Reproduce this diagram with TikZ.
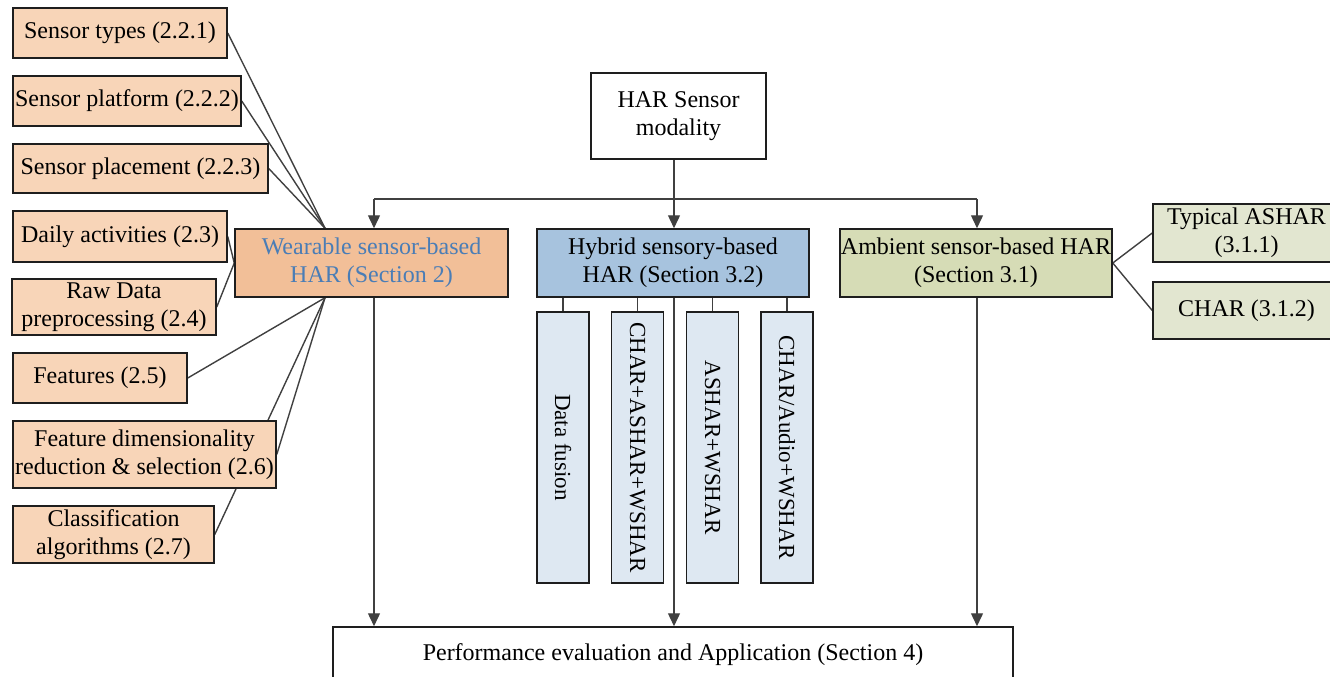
\documentclass[tikz,border=0pt]{standalone}
\usepackage{fontspec}
\setmainfont{Liberation Serif}
\usepackage{graphicx}
\usetikzlibrary{arrows.meta,backgrounds,calc}
\definecolor{peach}{HTML}{F8D5B8}
\definecolor{wearfill}{HTML}{F2BF98}
\definecolor{weartext}{HTML}{4A7DB6}
\definecolor{hybfill}{HTML}{A7C3DE}
\definecolor{subfill}{HTML}{DEE8F2}
\definecolor{ambfill}{HTML}{D6DCB6}
\definecolor{ambsub}{HTML}{E2E6D0}
\definecolor{linecol}{HTML}{404040}
\definecolor{bordercol}{HTML}{1E1E1E}
\tikzset{
  box/.style={draw=bordercol, line width=1.5pt, rectangle, inner sep=0pt, align=center,
    font=\fontsize{24}{28}\selectfont},
  leftbox/.style={box, fill=peach},
  subbox/.style={box, fill=subfill, minimum width=52pt, minimum height=271pt,
    font=\fontsize{23}{28}\selectfont},
  conn/.style={draw=linecol, line width=1.4pt},
  arr/.style={conn, -{Triangle[length=13pt,width=12pt]}, fill=linecol}
}
\begin{document}
\begin{tikzpicture}[x=1pt,y=-1pt]
\useasboundingbox (0,0) rectangle (1330,677);
% left boxes
\node[leftbox, minimum width=214pt, minimum height=50pt] (types) at (120,33) {Sensor types (2.2.1)};
\node[leftbox, minimum width=228pt, minimum height=50pt] (platform) at (127,101) {Sensor platform (2.2.2)};
\node[leftbox, minimum width=255pt, minimum height=49pt] (placement) at (140.5,168.5) {Sensor placement (2.2.3)};
\node[leftbox, minimum width=214pt, minimum height=51pt] (daily) at (120,236.5) {Daily activities (2.3)};
\node[leftbox, minimum width=204pt, minimum height=56pt] (raw) at (114,307) {Raw Data\\preprocessing (2.4)};
\node[leftbox, minimum width=174pt, minimum height=50pt] (features) at (100,378) {Features (2.5)};
\node[leftbox, minimum width=263pt, minimum height=67pt] (featdim) at (144.5,454.5) {Feature dimensionality\\reduction \& selection (2.6)};
\node[leftbox, minimum width=201pt, minimum height=57pt] (classif) at (113.5,534.5) {Classification\\algorithms (2.7)};
% top
\node[box, fill=white, minimum width=175pt, minimum height=86pt] (modality) at (678.5,116) {HAR Sensor\\modality};
% main row
\node[box, fill=wearfill, text=weartext, minimum width=273pt, minimum height=68pt] (wear) at (371.5,263) {Wearable sensor-based\\HAR (Section 2)};
\node[box, fill=hybfill, minimum width=272pt, minimum height=68pt] (hyb) at (673,263) {Hybrid sensory-based\\HAR (Section 3.2)};
\node[box, fill=ambfill, minimum width=272pt, minimum height=68pt] (amb) at (976,263) {Ambient sensor-based HAR\\(Section 3.1)};
\node[box, fill=ambsub, minimum width=187pt, minimum height=58pt] (typical) at (1246.5,233) {Typical ASHAR\\(3.1.1)};
\node[box, fill=ambsub, minimum width=187pt, minimum height=57pt] (char) at (1246.5,310.5) {CHAR (3.1.2)};
% sub boxes
\node[subbox] (s1) at (563,447.5) {\rotatebox{-90}{Data fusion}};
\node[subbox] (s2) at (637.5,447.5) {\rotatebox{-90}{CHAR+ASHAR+WSHAR}};
\node[subbox] (s3) at (712.5,447.5) {\rotatebox{-90}{ASHAR+WSHAR}};
\node[subbox] (s4) at (787,447.5) {\rotatebox{-90}{CHAR/Audio+WSHAR}};
% bottom
\node[box, fill=white, minimum width=680pt, minimum height=56pt] (perf) at (673,655) {Performance evaluation and Application (Section 4)};
% helper coordinates
\coordinate (wx) at (374,0);
\coordinate (hx) at (674,0);
\coordinate (ax) at (977,0);
\coordinate (tx) at (325,0);
\coordinate (bus) at (0,199);
\begin{pgfonlayer}{background}
  % wearable fan-in
  \draw[conn] (types.east) -- (wear.north -| tx);
  \draw[conn] (platform.east) -- (wear.north -| tx);
  \draw[conn] (placement.east) -- (wear.north -| tx);
  \draw[conn] (daily.east) -- (wear.west);
  \draw[conn] (raw.east) -- (wear.west);
  \draw[conn] (wear.south -| tx) -- (features.east);
  \draw[conn] (wear.south -| tx) -- (featdim.east);
  \draw[conn] (wear.south -| tx) -- (classif.east);
  % ambient
  \draw[conn] (amb.east) -- (typical.west);
  \draw[conn] (amb.east) -- (char.west);
  % hybrid stubs
  \draw[conn] (hyb.south -| s1.north) -- (s1.north);
  \draw[conn] (hyb.south -| s2.north) -- (s2.north);
  \draw[conn] (hyb.south -| s3.north) -- (s3.north);
  \draw[conn] (hyb.south -| s4.north) -- (s4.north);
\end{pgfonlayer}
% top bus
\draw[conn] (modality.south -| hx) -- (bus -| hx);
\draw[conn] (bus -| wx) -- (bus -| ax);
\draw[arr] (bus -| wx) -- (wear.north -| wx);
\draw[arr] (bus -| hx) -- (hyb.north -| hx);
\draw[arr] (bus -| ax) -- (amb.north -| ax);
% down arrows
\draw[arr] (wear.south -| wx) -- (perf.north -| wx);
\draw[arr] (hyb.south -| hx) -- (perf.north -| hx);
\draw[arr] (amb.south -| ax) -- (perf.north -| ax);
\end{tikzpicture}
\end{document}
